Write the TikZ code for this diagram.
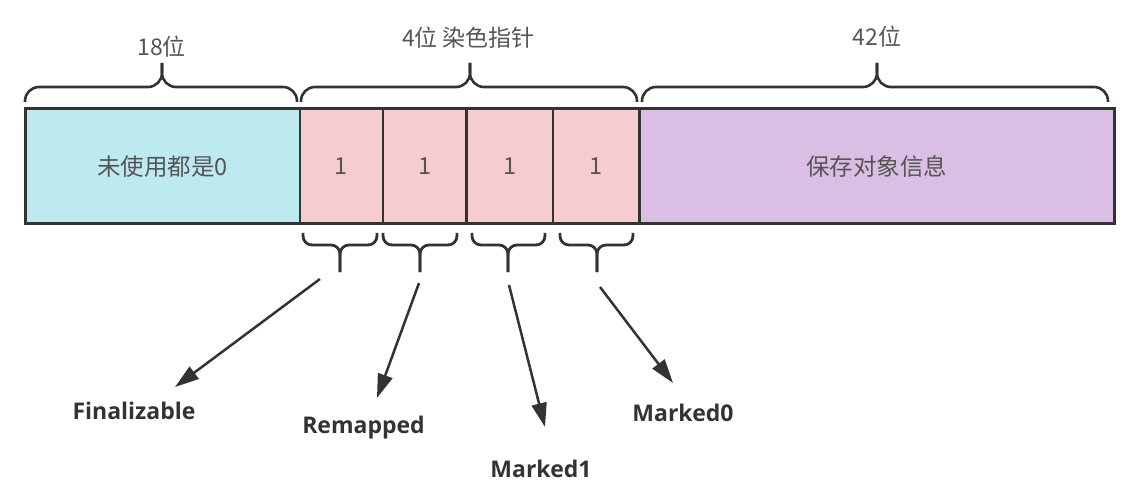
\documentclass[tikz,border=0pt]{standalone}
\usepackage{fontspec}
\setmainfont{Open Sans}
\newfontfamily\cjk{Noto Sans CJK SC}
\usetikzlibrary{arrows.meta}
\definecolor{cblue}{HTML}{BDE9F0}
\definecolor{cpink}{HTML}{F5CDD1}
\definecolor{cpurple}{HTML}{DBBEE3}
\definecolor{cline}{HTML}{333333}
\definecolor{ctext}{HTML}{555555}
\begin{document}
\begin{tikzpicture}[x=1pt,y=-1pt,
  cell/.style={draw=cline, line width=2.8pt, anchor=north west, minimum height=115pt, inner sep=0pt, font=\cjk\fontsize{23.5}{28}\selectfont, text=ctext},
  toplabel/.style={font=\cjk\fontsize{23}{27}\selectfont, text=ctext, inner sep=0pt},
  bitlabel/.style={font=\bfseries\fontsize{23}{27}\selectfont, text=cline, anchor=base, inner sep=0pt},
  bigbrace/.style={draw=cline, line width=2.6pt, rounded corners=14pt},
  smallbrace/.style={draw=cline, line width=2.8pt, rounded corners=9pt},
  arr/.style={draw=cline, line width=2.5pt, -{Triangle[length=24pt,width=15pt]}}]
\useasboundingbox (0,0) rectangle (1134,486);
% fields
\node[cell, fill=cblue, minimum width=274.5pt] (unused) at (24,107.5) {未使用都是0};
\node[cell, fill=cpink, minimum width=83pt] (b1) at (298.5,107.5) {1};
\node[cell, fill=cpink, minimum width=83.5pt] (b2) at (381.5,107.5) {1};
\node[cell, fill=cpink, minimum width=86.5pt] (b3) at (465,107.5) {1};
\node[cell, fill=cpink, minimum width=86.5pt] (b4) at (551.5,107.5) {1};
\node[cell, fill=cpurple, minimum width=475pt] (info) at (638,107.5) {保存对象信息};
% top braces
\draw[bigbrace] (25,102) |- (162,87) -- (162,63);
\draw[bigbrace] (297,102) |- (162,87) -- (162,63);
\draw[bigbrace] (301,102) |- (470,87) -- (470,63);
\draw[bigbrace] (637,102) |- (470,87) -- (470,63);
\draw[bigbrace] (642,102) |- (877,87) -- (877,63);
\draw[bigbrace] (1108,102) |- (877,87) -- (877,63);
\node[toplabel] (l18) at (161.5,46.5) {18位};
\node[toplabel] (l4) at (468.5,37.5) {4位 染色指针};
\node[toplabel] (l42) at (877,36.5) {42位};
% bottom braces
\foreach \a/\m/\b in {303/340/377, 383/420/457, 472/508/545, 560/597/633}{
  \draw[smallbrace] (\a,233) |- (\m,245) -- (\m,272);
  \draw[smallbrace] (\b,233) |- (\m,245) -- (\m,272);
}
% labels
\node[bitlabel] (fin) at (134,419) {Finalizable};
\node[bitlabel] (rem) at (363.5,433) {Remapped};
\node[bitlabel] (mk1) at (541,477) {Marked1};
\node[bitlabel] (mk0) at (683,421) {Marked0};
% arrows
\coordinate (s1) at (320,279); \coordinate (t1) at (175,387);
\coordinate (s2) at (419,283); \coordinate (t2) at (377,398);
\coordinate (s3) at (509,285); \coordinate (t3) at (545,427);
\coordinate (s4) at (600,287); \coordinate (t4) at (673,383);
\draw[arr] (s1) -- (t1);
\draw[arr] (s2) -- (t2);
\draw[arr] (s3) -- (t3);
\draw[arr] (s4) -- (t4);
\end{tikzpicture}
\end{document}
